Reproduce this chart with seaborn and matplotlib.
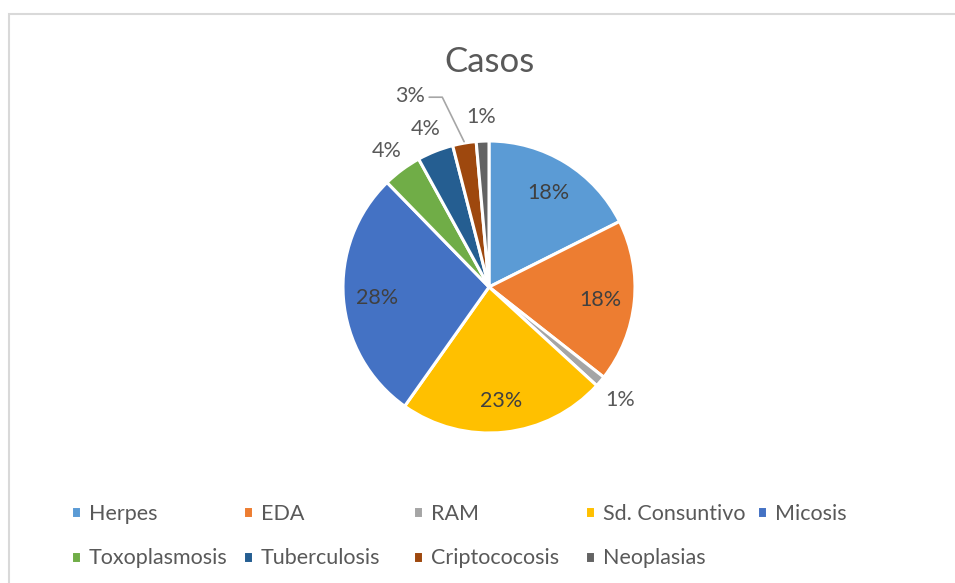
import numpy as np
import matplotlib.pyplot as plt
import seaborn as sns
from matplotlib.patches import Rectangle
from matplotlib.lines import Line2D

# data
categories = ['Herpes', 'EDA', 'RAM', 'Sd. Consuntivo', 'Micosis',
              'Toxoplasmosis', 'Tuberculosis', 'Criptococosis', 'Neoplasias']
values = [17.6, 18.0, 1.2, 23.0, 27.9, 4.3, 4.0, 2.6, 1.4]
colors = ['#5B9BD5', '#ED7D31', '#A5A5A5', '#FFC000', '#4472C4',
          '#70AD47', '#255E91', '#9E480E', '#636363']
outside = [False, False, True, False, False, True, True, True, True]

sns.set_theme(style='white')
plt.rcParams['font.family'] = ['Lato', 'DejaVu Sans']
text_color = '#595959'

W, H = 955, 583
fig = plt.figure(figsize=(W / 100, H / 100), dpi=100)

# chart border (top and left visible)
fig.patches.append(Rectangle((8.5 / W, -0.1), 1.2, 1 - 14.5 / H + 0.1,
                             transform=fig.transFigure, fill=False,
                             edgecolor='#D9D9D9', linewidth=1.5))

# pie axes, centered at (489, 287) px with radius ~146 px
cx, cy, r = 489, 287, 146
half = 1.5 * r
ax = fig.add_axes([(cx - half) / W, (H - cy - half) / H, 2 * half / W, 2 * half / H])
wedges, _ = ax.pie(values, colors=colors, startangle=90, counterclock=False,
                   wedgeprops=dict(edgecolor='white', linewidth=2.2))
ax.set_xlim(-1.5, 1.5)
ax.set_ylim(-1.5, 1.5)
ax.set_aspect('equal')
ax.axis('off')

fs = 15.5
total = sum(values)
for i, w in enumerate(wedges):
    ang = np.deg2rad((w.theta1 + w.theta2) / 2)
    pct = f'{values[i] / total * 100:.0f}%'
    if categories[i] == 'Criptococosis':
        # label pulled out with a leader line
        lx, ly = -0.41, 1.30
        ax.add_line(Line2D([lx, lx + 0.09, np.cos(ang) * 1.01],
                           [ly, ly, np.sin(ang) * 1.01],
                           color='#A6A6A6', linewidth=1.2))
        ax.text(lx - 0.03, ly + 0.02, pct, ha='right', va='center_baseline',
                fontsize=fs, color=text_color)
    elif outside[i]:
        d = 1.18
        ax.text(np.cos(ang) * d, np.sin(ang) * d, pct, ha='center',
                va='center_baseline', fontsize=fs, color=text_color)
    else:
        d = 0.77
        ax.text(np.cos(ang) * d, np.sin(ang) * d, pct, ha='center',
                va='center_baseline', fontsize=fs, color='#404040')

fig.text(cx / W, 1 - 59 / H, 'Casos', ha='center', va='center_baseline',
         fontsize=25, color=text_color)

# legend: 5 equally spaced columns, row-major order
col_x = [71, 243, 413, 585, 757]
ncol = len(col_x)
px = fs * 100 / 72
for j, x0 in enumerate(col_x):
    idx = [k for k in range(j, len(categories), ncol)]
    fig.legend([wedges[k] for k in idx], [categories[k] for k in idx],
               loc='upper left', bbox_to_anchor=(x0 / W, 1 - 504 / H),
               frameon=False, fontsize=fs, labelcolor=text_color,
               handlelength=10 / px, handleheight=10 / px,
               handletextpad=8 / px, borderpad=0, borderaxespad=0,
               labelspacing=(46 - px) / px)

fig.savefig('out.png', dpi=100)
